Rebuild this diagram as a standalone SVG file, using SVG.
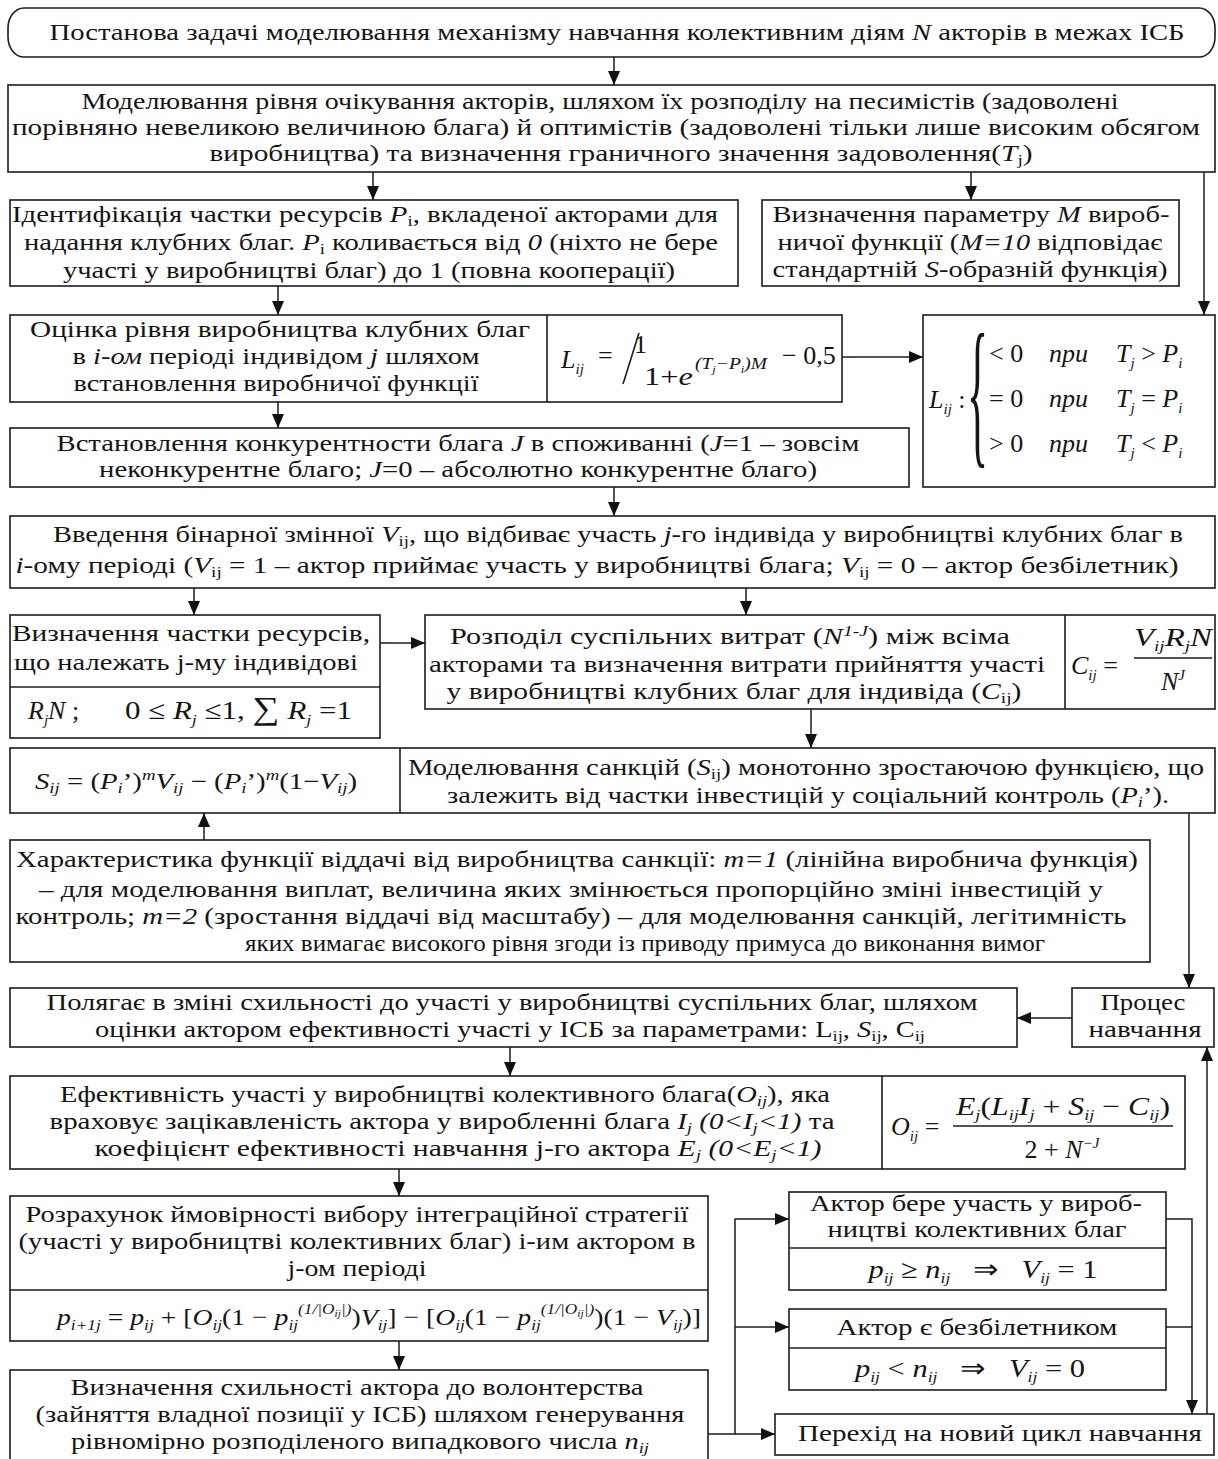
<svg xmlns="http://www.w3.org/2000/svg" width="1218" height="1459" viewBox="0 0 1218 1459">
<defs>
<style>
.b{fill:#fff;stroke:#1c1c1c;stroke-width:1.6}
.d{stroke:#1c1c1c;stroke-width:1.6}
.t{font-family:"Liberation Serif","Times New Roman",serif;font-size:23px;fill:#151515;text-anchor:middle}
.l{text-anchor:start}
.i{font-style:italic}
.s{font-size:15px}
.f{font-size:26px}
.c{fill:none;stroke:#1c1c1c;stroke-width:1.5}
.a{marker-end:url(#ah)}
</style>
<marker id="ah" markerUnits="userSpaceOnUse" markerWidth="14" markerHeight="12" refX="14" refY="6" orient="auto" viewBox="0 0 14 12"><path d="M0,0L14,6L0,12z" fill="#111"/></marker>
</defs>
<rect width="1218" height="1459" fill="#fff"/>

<g id="connectors">
<path class="c a" d="M614,57V85"/>
<path class="c a" d="M373,172V200"/>
<path class="c a" d="M971,172V200"/>
<path class="c a" d="M1204,172V315"/>
<path class="c a" d="M278,286V315"/>
<path class="c a" d="M842,357H923"/>
<path class="c a" d="M278,402V428"/>
<path class="c a" d="M614,487V516"/>
<path class="c a" d="M194,588V615"/>
<path class="c a" d="M746,588V615"/>
<path class="c a" d="M380,643H425"/>
<path class="c a" d="M811,709V748"/>
<path class="c a" d="M204,840V813"/>
<path class="c a" d="M1189,813V988"/>
<path class="c a" d="M1072,1018H1017"/>
<path class="c a" d="M510,1047V1076"/>
<path class="c a" d="M399,1169V1196"/>
<path class="c a" d="M399,1341V1370"/>
<path class="c a" d="M708,1434H735V1219H789"/>
<path class="c a" d="M735,1327H789"/>
<path class="c a" d="M735,1434H775"/>
<path class="c a" d="M1166,1219H1192V1414"/>
<path class="c" d="M1166,1327H1192"/>
<path class="c a" d="M1207,1414V1047"/>
</g>

<g id="n-start">
<rect class="b" x="8" y="8" width="1207" height="49" rx="16" ry="20"/>
<text class="t" x="617" y="40" textLength="1135" lengthAdjust="spacingAndGlyphs">Постанова задачі  моделювання механізму навчання колективним діям <tspan class="i">N</tspan> акторів в межах ІСБ</text>
</g>

<g id="n-expect">
<rect class="b" x="8" y="85" width="1207" height="87"/>
<text class="t" x="600" y="109" textLength="1037" lengthAdjust="spacingAndGlyphs">Моделювання рівня очікування акторів, шляхом їх розподілу на песимістів (задоволені</text>
<text class="t" x="606" y="135" textLength="1188" lengthAdjust="spacingAndGlyphs">порівняно невеликою величиною блага) й оптимістів (задоволені тільки лише високим обсягом</text>
<text class="t" x="621" y="161" textLength="823" lengthAdjust="spacingAndGlyphs">виробництва) та визначення граничного значення задоволення(<tspan class="i">T</tspan><tspan class="s" dy="4">j</tspan><tspan dy="-4">)</tspan></text>
</g>

<g id="n-share">
<rect class="b" x="10" y="200" width="728" height="86"/>
<text class="t" x="365" y="222" textLength="706" lengthAdjust="spacingAndGlyphs">Ідентифікація частки ресурсів <tspan class="i">P</tspan><tspan class="s" dy="4">i</tspan><tspan dy="-4">, вкладеної акторами для</tspan></text>
<text class="t" x="371" y="250" textLength="694" lengthAdjust="spacingAndGlyphs">надання клубних благ. <tspan class="i">P</tspan><tspan class="s" dy="4">i</tspan><tspan dy="-4"> коливається від </tspan><tspan class="i">0</tspan> (ніхто не бере</text>
<text class="t" x="369" y="278" textLength="612" lengthAdjust="spacingAndGlyphs">участі у виробництві благ) до 1 (повна кооперації)</text>
</g>

<g id="n-param">
<rect class="b" x="762" y="200" width="417" height="86"/>
<text class="t" x="971" y="222" textLength="397" lengthAdjust="spacingAndGlyphs">Визначення параметру <tspan class="i">M</tspan> вироб-</text>
<text class="t" x="970" y="250" textLength="385" lengthAdjust="spacingAndGlyphs">ничої функції (<tspan class="i">M=10</tspan> відповідає</text>
<text class="t" x="970" y="277" textLength="395" lengthAdjust="spacingAndGlyphs">стандартній <tspan class="i">S</tspan>-образній функція)</text>
</g>

<g id="n-level">
<rect class="b" x="10" y="315" width="832" height="87"/>
<line class="d" x1="547" y1="315" x2="547" y2="402"/>
<text class="t" x="280" y="337" textLength="500" lengthAdjust="spacingAndGlyphs">Оцінка  рівня виробництва клубних благ</text>
<text class="t" x="276" y="364" textLength="407" lengthAdjust="spacingAndGlyphs">в <tspan class="i">i-ом</tspan> періоді індивідом <tspan class="i">j</tspan> шляхом</text>
<text class="t" x="276" y="391" textLength="405" lengthAdjust="spacingAndGlyphs">встановлення виробничої функції</text>
<text class="t l f i" x="561" y="368">L<tspan class="s" dy="6">ij</tspan></text>
<text class="t l f" x="598" y="364">=</text>
<text class="t l f" x="634" y="353">1</text>
<line class="d" x1="623" y1="384" x2="639" y2="333"/>
<text class="t l f" x="644" y="385" textLength="49" lengthAdjust="spacingAndGlyphs">1+<tspan class="i">e</tspan></text>
<text class="t l i" x="695" y="369" style="font-size:17px" textLength="72" lengthAdjust="spacingAndGlyphs">(T<tspan style="font-size:11px" dy="4">j</tspan><tspan dy="-4">−P</tspan><tspan style="font-size:11px" dy="4">i</tspan><tspan dy="-4">)M</tspan></text>
<text class="t l f" x="782" y="364">− 0,5</text>
</g>

<g id="n-cases">
<rect class="b" x="923" y="315" width="292" height="172"/>
<text class="t l f i" x="929" y="408">L<tspan class="s" dy="6">ij</tspan><tspan dy="-6" style="font-style:normal"> :</tspan></text>
<text class="t l" x="0" y="0" style="font-size:44px" transform="translate(967,446) scale(1,3.7)">{</text>
<text class="t l f" x="989" y="362">&lt; 0</text>
<text class="t l f" x="989" y="407">= 0</text>
<text class="t l f" x="989" y="452">&gt; 0</text>
<text class="t l f i" x="1049" y="362">при</text>
<text class="t l f i" x="1049" y="407">при</text>
<text class="t l f i" x="1049" y="452">при</text>
<text class="t l f" x="1116" y="362"><tspan class="i">T</tspan><tspan class="s i" dy="6">j</tspan><tspan dy="-6"> &gt; </tspan><tspan class="i">P</tspan><tspan class="s i" dy="6">i</tspan></text>
<text class="t l f" x="1116" y="407"><tspan class="i">T</tspan><tspan class="s i" dy="6">j</tspan><tspan dy="-6"> = </tspan><tspan class="i">P</tspan><tspan class="s i" dy="6">i</tspan></text>
<text class="t l f" x="1116" y="452"><tspan class="i">T</tspan><tspan class="s i" dy="6">j</tspan><tspan dy="-6"> &lt; </tspan><tspan class="i">P</tspan><tspan class="s i" dy="6">i</tspan></text>
</g>

<g id="n-rival">
<rect class="b" x="10" y="428" width="899" height="59"/>
<text class="t" x="458" y="451" textLength="803" lengthAdjust="spacingAndGlyphs">Встановлення конкурентности блага <tspan class="i">J</tspan> в споживанні (<tspan class="i">J</tspan>=1 – зовсім</text>
<text class="t" x="458" y="477" textLength="718" lengthAdjust="spacingAndGlyphs">неконкурентне благо; <tspan class="i">J</tspan>=0 – абсолютно конкурентне благо)</text>
</g>

<g id="n-binary">
<rect class="b" x="10" y="516" width="1205" height="72"/>
<text class="t" x="618" y="542" textLength="1130" lengthAdjust="spacingAndGlyphs">Введення бінарної змінної <tspan class="i">V</tspan><tspan class="s" dy="4">ij</tspan><tspan dy="-4">, що відбиває участь </tspan><tspan class="i">j</tspan>-го індивіда у виробництві клубних благ в</text>
<text class="t" x="597" y="573" textLength="1163" lengthAdjust="spacingAndGlyphs"><tspan class="i">i</tspan>-ому періоді (<tspan class="i">V</tspan><tspan class="s" dy="4">ij</tspan><tspan dy="-4"> = 1 – актор приймає участь у виробництві блага; </tspan><tspan class="i">V</tspan><tspan class="s" dy="4">ij</tspan><tspan dy="-4"> = 0 – актор безбілетник)</tspan></text>
</g>

<g id="n-resources">
<rect class="b" x="10" y="615" width="370" height="123"/>
<line class="d" x1="10" y1="687" x2="380" y2="687"/>
<text class="t" x="191" y="641" textLength="358" lengthAdjust="spacingAndGlyphs">Визначення частки ресурсів,</text>
<text class="t" x="186" y="670" textLength="344" lengthAdjust="spacingAndGlyphs">що належать j-му індивідові</text>
<text class="t l f" x="28" y="719"><tspan class="i">R</tspan><tspan class="s i" dy="6">j</tspan><tspan class="i" dy="-6">N</tspan> ;</text>
<text class="t l f" x="125" y="719" textLength="227" lengthAdjust="spacingAndGlyphs">0 ≤ <tspan class="i">R</tspan><tspan class="s i" dy="6">j</tspan><tspan dy="-6"> ≤1, </tspan><tspan style="font-size:32px">∑</tspan> <tspan class="i">R</tspan><tspan class="s i" dy="6">j</tspan><tspan dy="-6"> =1</tspan></text>
</g>

<g id="n-costs">
<rect class="b" x="425" y="615" width="790" height="94"/>
<line class="d" x1="1065" y1="615" x2="1065" y2="709"/>
<text class="t" x="730" y="644" textLength="560" lengthAdjust="spacingAndGlyphs">Розподіл суспільних витрат (<tspan class="i">N</tspan><tspan class="s i" dy="-8">1-J</tspan><tspan dy="8">) між всіма</tspan></text>
<text class="t" x="737" y="672" textLength="616" lengthAdjust="spacingAndGlyphs">акторами та визначення витрати прийняття участі</text>
<text class="t" x="734" y="699" textLength="575" lengthAdjust="spacingAndGlyphs">у виробництві клубних благ для індивіда (<tspan class="i">C</tspan><tspan class="s" dy="4">ij</tspan><tspan dy="-4">)</tspan></text>
<text class="t l f i" x="1071" y="674">C<tspan class="s" dy="6">ij</tspan><tspan dy="-6" style="font-style:normal"> =</tspan></text>
<text class="t f i" x="1173" y="646" textLength="78" lengthAdjust="spacingAndGlyphs">V<tspan class="s" dy="5">ij</tspan><tspan dy="-5">R</tspan><tspan class="s" dy="5">j</tspan><tspan dy="-5">N</tspan></text>
<line class="d" x1="1134" y1="658" x2="1212" y2="658"/>
<text class="t f i" x="1173" y="690">N<tspan class="s" dy="-10">J</tspan></text>
</g>

<g id="n-sanctions">
<rect class="b" x="10" y="748" width="1205" height="65"/>
<line class="d" x1="400" y1="748" x2="400" y2="813"/>
<text class="t" x="196" y="789" textLength="322" lengthAdjust="spacingAndGlyphs"><tspan class="i">S</tspan><tspan class="s i" dy="4">ij</tspan><tspan dy="-4"> = (</tspan><tspan class="i">P</tspan><tspan class="s i" dy="4">i</tspan><tspan dy="-4">’)</tspan><tspan class="s i" dy="-9">m</tspan><tspan class="i" dy="9">V</tspan><tspan class="s i" dy="4">ij</tspan><tspan dy="-4"> − (</tspan><tspan class="i">P</tspan><tspan class="s i" dy="4">i</tspan><tspan dy="-4">’)</tspan><tspan class="s i" dy="-9">m</tspan><tspan dy="9">(1−</tspan><tspan class="i">V</tspan><tspan class="s i" dy="4">ij</tspan><tspan dy="-4">)</tspan></text>
<text class="t" x="806" y="775" textLength="796" lengthAdjust="spacingAndGlyphs">Моделювання санкцій (<tspan class="i">S</tspan><tspan class="s" dy="4">ij</tspan><tspan dy="-4">) монотонно зростаючою функцією, що</tspan></text>
<text class="t" x="808" y="803" textLength="722" lengthAdjust="spacingAndGlyphs">залежить від частки інвестицій у соціальний контроль (<tspan class="i">P</tspan><tspan class="s i" dy="4">i</tspan><tspan dy="-4">’).</tspan></text>
</g>

<g id="n-return">
<rect class="b" x="10" y="840" width="1140" height="122"/>
<text class="t" x="577" y="867" textLength="1122" lengthAdjust="spacingAndGlyphs">Характеристика функції віддачі від виробництва санкції: <tspan class="i">m=1</tspan> (лінійна виробнича функція)</text>
<text class="t" x="571" y="897" textLength="1064" lengthAdjust="spacingAndGlyphs">– для моделювання виплат, величина яких змінюється пропорційно зміні інвестицій у</text>
<text class="t" x="571" y="924" textLength="1111" lengthAdjust="spacingAndGlyphs">контроль; <tspan class="i">m=2</tspan> (зростання віддачі від масштабу) – для моделювання санкцій, легітимність</text>
<text class="t" x="645" y="951" textLength="800" lengthAdjust="spacingAndGlyphs">яких вимагає високого рівня згоди із приводу примуса до виконання вимог</text>
</g>

<g id="n-change">
<rect class="b" x="10" y="988" width="1007" height="59"/>
<text class="t" x="512" y="1010" textLength="931" lengthAdjust="spacingAndGlyphs">Полягає в зміні схильності до участі у виробництві суспільних благ, шляхом</text>
<text class="t" x="510" y="1037" textLength="830" lengthAdjust="spacingAndGlyphs">оцінки актором ефективності участі у ІСБ за параметрами: L<tspan class="s" dy="4">ij</tspan><tspan dy="-4">, </tspan><tspan class="i">S</tspan><tspan class="s" dy="4">ij</tspan><tspan dy="-4">, C</tspan><tspan class="s" dy="4">ij</tspan></text>
</g>

<g id="n-process">
<rect class="b" x="1072" y="988" width="142" height="59"/>
<text class="t" x="1143" y="1010" textLength="85" lengthAdjust="spacingAndGlyphs">Процес</text>
<text class="t" x="1145" y="1037" textLength="113" lengthAdjust="spacingAndGlyphs">навчання</text>
</g>

<g id="n-efficiency">
<rect class="b" x="10" y="1076" width="1175" height="93"/>
<line class="d" x1="882" y1="1076" x2="882" y2="1169"/>
<text class="t" x="445" y="1102" textLength="770" lengthAdjust="spacingAndGlyphs">Ефективність участі у виробництві колективного блага(<tspan class="i">O</tspan><tspan class="s i" dy="4">ij</tspan><tspan dy="-4">), яка</tspan></text>
<text class="t" x="442" y="1129" textLength="785" lengthAdjust="spacingAndGlyphs">враховує зацікавленість актора у виробленні блага <tspan class="i">I</tspan><tspan class="s i" dy="4">j</tspan><tspan class="i" dy="-4"> (0&lt;I</tspan><tspan class="s i" dy="4">j</tspan><tspan class="i" dy="-4">&lt;1)</tspan> та</text>
<text class="t" x="458" y="1156" textLength="727" lengthAdjust="spacingAndGlyphs">коефіцієнт ефективності навчання j-го актора <tspan class="i">E</tspan><tspan class="s i" dy="4">j</tspan><tspan class="i" dy="-4"> (0&lt;E</tspan><tspan class="s i" dy="4">j</tspan><tspan class="i" dy="-4">&lt;1)</tspan></text>
<text class="t l f i" x="891" y="1135">O<tspan class="s" dy="6">ij</tspan><tspan dy="-6" style="font-style:normal"> =</tspan></text>
<text class="t f" x="1063" y="1115" textLength="214" lengthAdjust="spacingAndGlyphs"><tspan class="i">E</tspan><tspan class="s i" dy="5">j</tspan><tspan dy="-5">(</tspan><tspan class="i">L</tspan><tspan class="s i" dy="5">ij</tspan><tspan class="i" dy="-5">I</tspan><tspan class="s i" dy="5">j</tspan><tspan dy="-5"> + </tspan><tspan class="i">S</tspan><tspan class="s i" dy="5">ij</tspan><tspan dy="-5"> − </tspan><tspan class="i">C</tspan><tspan class="s i" dy="5">ij</tspan><tspan dy="-5">)</tspan></text>
<line class="d" x1="953" y1="1126" x2="1173" y2="1126"/>
<text class="t f" x="1062" y="1158">2 + <tspan class="i">N</tspan><tspan class="s i" dy="-10">−J</tspan></text>
</g>

<g id="n-probability">
<rect class="b" x="10" y="1196" width="698" height="145"/>
<line class="d" x1="10" y1="1290" x2="708" y2="1290"/>
<text class="t" x="357" y="1222" textLength="663" lengthAdjust="spacingAndGlyphs">Розрахунок ймовірності вибору інтеграційної стратегії</text>
<text class="t" x="357" y="1249" textLength="677" lengthAdjust="spacingAndGlyphs">(участі у виробництві колективних благ) і-им актором в</text>
<text class="t" x="357" y="1276" textLength="139" lengthAdjust="spacingAndGlyphs">j-ом періоді</text>
<text class="t" x="379" y="1325" style="font-size:24px" textLength="644" lengthAdjust="spacingAndGlyphs"><tspan class="i">p</tspan><tspan class="s i" dy="5">i+1j</tspan><tspan dy="-5"> = </tspan><tspan class="i">p</tspan><tspan class="s i" dy="5">ij</tspan><tspan dy="-5"> + [</tspan><tspan class="i">O</tspan><tspan class="s i" dy="5">ij</tspan><tspan dy="-5">(1 − </tspan><tspan class="i">p</tspan><tspan class="s i" dy="5">ij</tspan><tspan class="s i" dy="-16">(1/|O</tspan><tspan style="font-size:10px" class="i" dy="3">ij</tspan><tspan class="s i" dy="-3">|)</tspan><tspan dy="11">)</tspan><tspan class="i">V</tspan><tspan class="s i" dy="5">ij</tspan><tspan dy="-5">] − [</tspan><tspan class="i">O</tspan><tspan class="s i" dy="5">ij</tspan><tspan dy="-5">(1 − </tspan><tspan class="i">p</tspan><tspan class="s i" dy="5">ij</tspan><tspan class="s i" dy="-16">(1/|O</tspan><tspan style="font-size:10px" class="i" dy="3">ij</tspan><tspan class="s i" dy="-3">|)</tspan><tspan dy="11">)(1 − </tspan><tspan class="i">V</tspan><tspan class="s i" dy="5">ij</tspan><tspan dy="-5">)]</tspan></text>
</g>

<g id="n-volunteer">
<rect class="b" x="10" y="1370" width="698" height="95"/>
<text class="t" x="357" y="1395" textLength="573" lengthAdjust="spacingAndGlyphs">Визначення схильності актора до волонтерства</text>
<text class="t" x="360" y="1422" textLength="649" lengthAdjust="spacingAndGlyphs">(зайняття владної позиції у ІСБ) шляхом генерування</text>
<text class="t" x="360" y="1449" textLength="578" lengthAdjust="spacingAndGlyphs">рівномірно розподіленого випадкового числа <tspan class="i">n</tspan><tspan class="s i" dy="4">ij</tspan></text>
</g>

<g id="n-participates">
<rect class="b" x="789" y="1192" width="377" height="98"/>
<line class="d" x1="789" y1="1248" x2="1166" y2="1248"/>
<text class="t" x="976" y="1211" textLength="332" lengthAdjust="spacingAndGlyphs">Актор бере участь у вироб-</text>
<text class="t" x="977" y="1237" textLength="299" lengthAdjust="spacingAndGlyphs">ництві колективних благ</text>
<text class="t f" x="983" y="1278" textLength="229" lengthAdjust="spacingAndGlyphs"><tspan class="i">p</tspan><tspan class="s i" dy="5">ij</tspan><tspan dy="-5"> ≥ </tspan><tspan class="i">n</tspan><tspan class="s i" dy="5">ij</tspan><tspan dy="-5">&#160;&#160;&#160;⇒&#160;&#160;&#160;</tspan><tspan class="i">V</tspan><tspan class="s i" dy="5">ij</tspan><tspan dy="-5"> = 1</tspan></text>
</g>

<g id="n-freerider">
<rect class="b" x="789" y="1309" width="377" height="81"/>
<line class="d" x1="789" y1="1348" x2="1166" y2="1348"/>
<text class="t" x="977" y="1335" textLength="281" lengthAdjust="spacingAndGlyphs">Актор є безбілетником</text>
<text class="t f" x="970" y="1377" textLength="230" lengthAdjust="spacingAndGlyphs"><tspan class="i">p</tspan><tspan class="s i" dy="5">ij</tspan><tspan dy="-5"> &lt; </tspan><tspan class="i">n</tspan><tspan class="s i" dy="5">ij</tspan><tspan dy="-5">&#160;&#160;&#160;⇒&#160;&#160;&#160;</tspan><tspan class="i">V</tspan><tspan class="s i" dy="5">ij</tspan><tspan dy="-5"> = 0</tspan></text>
</g>

<g id="n-newcycle">
<rect class="b" x="775" y="1414" width="439" height="41"/>
<text class="t" x="1000" y="1441" textLength="404" lengthAdjust="spacingAndGlyphs">Перехід на новий цикл навчання</text>
</g>
</svg>
